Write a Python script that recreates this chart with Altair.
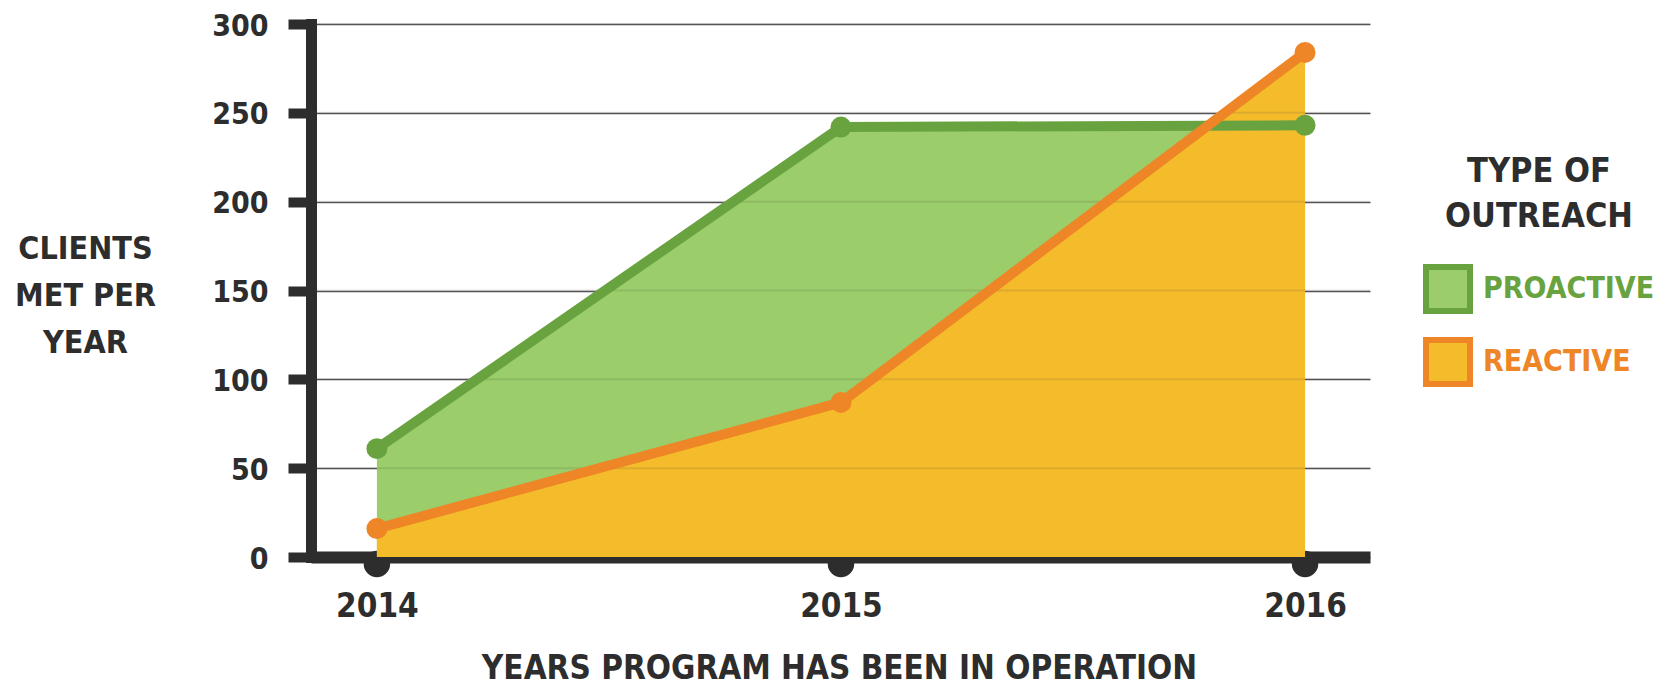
import altair as alt
import pandas as pd

# ---- data ----
years = [2014, 2015, 2016]
proactive = [61, 242, 243]
reactive = [16, 87, 284]
series_names = ["PROACTIVE", "REACTIVE"]
y_ticks = [0, 50, 100, 150, 200, 250, 300]

rows = []
for yr, p, r in zip(years, proactive, reactive):
    rows.append({"year": yr, "clients": p, "series": series_names[0]})
    rows.append({"year": yr, "clients": r, "series": series_names[1]})
df = pd.DataFrame(rows)
df_years = pd.DataFrame({"year": years})
df_grid = pd.DataFrame({"v": y_ticks[1:]})

FONT = "DejaVu Sans Condensed"
DARK = "#2d2d2d"
GREEN_LINE = "#69a340"
GREEN_FILL = "#9bcd6a"
ORANGE_LINE = "#ee8527"
YELLOW_FILL = "#f4bb2a"

xscale = alt.Scale(domain=[2013.858, 2016.14], nice=False, zero=False)
yscale = alt.Scale(domain=[0, 300], nice=False)

x_axis = alt.Axis(
    values=years, format="d", ticks=False, grid=False,
    labelFont=FONT, labelFontSize=33, labelFontWeight="bold", labelColor=DARK,
    labelPadding=33,
    domainColor=DARK, domainWidth=12, domainCap="butt",
    title="YEARS PROGRAM HAS BEEN IN OPERATION",
    titleFont=FONT, titleFontSize=33, titleFontWeight="bold", titleColor=DARK,
    titleX=528, titleY=111, titleAlign="center", titleBaseline="middle",
)
y_axis = alt.Axis(
    values=y_ticks,
    tickSize=23, tickWidth=10, tickColor=DARK, tickCap="butt",
    domainColor=DARK, domainWidth=11, domainCap="square",
    grid=True, gridColor="#555555", gridWidth=1.6,
    labelFont=FONT, labelFontSize=30, labelFontWeight="bold", labelColor=DARK,
    labelPadding=20, labelBaseline="middle", labelOffset=2,
    title=["CLIENTS", "MET PER", "YEAR"],
    titleFont=FONT, titleFontSize=32, titleFontWeight="bold", titleColor=DARK,
    titleAngle=0, titleX=-226, titleY=224, titleAlign="center",
    titleBaseline="middle", titleLineHeight=47,
)

color_scale = alt.Scale(domain=series_names, range=[GREEN_FILL, YELLOW_FILL])
stroke_scale = alt.Scale(domain=series_names, range=[GREEN_LINE, ORANGE_LINE])

legend = alt.Legend(
    title=["TYPE OF", "OUTREACH"], orient="none", legendX=1112, legendY=131,
    titleFont=FONT, titleFontSize=34, titleFontWeight="bold", titleColor=DARK,
    titleAlign="center", titleAnchor="middle", titleLineHeight=45, titlePadding=30,
    titleLimit=400,
    labelFont=FONT, labelFontSize=30, labelFontWeight="bold",
    labelColor=alt.ExprRef(f"datum.value == 'PROACTIVE' ? '{GREEN_LINE}' : '{ORANGE_LINE}'"),
    labelOffset=10, labelLimit=400,
    symbolType="square", symbolSize=1936, symbolStrokeWidth=6,
    symbolStrokeColor=alt.ExprRef(f"datum.value == 'PROACTIVE' ? '{GREEN_LINE}' : '{ORANGE_LINE}'"),
    symbolOpacity=1, rowPadding=5, padding=0,
)

base = alt.Chart(df)

bumps = alt.Chart(df_years).mark_circle(size=700, color=DARK, opacity=1, yOffset=7).encode(
    x=alt.X("year:Q", scale=xscale, axis=x_axis),
    y=alt.Y(datum=0, scale=yscale, axis=y_axis),
)

def area_for(name):
    return base.transform_filter(alt.datum.series == name).mark_area(opacity=1, interpolate="linear").encode(
        x=alt.X("year:Q", scale=xscale),
        y=alt.Y("clients:Q", scale=yscale, stack=None),
        fill=alt.Fill("series:N", scale=color_scale, legend=legend),
    )

grid_overlay = alt.Chart(df_grid).mark_rule(color="#3a3a3a", opacity=0.13, strokeWidth=2).encode(
    y=alt.Y("v:Q", scale=yscale),
)

def line_for(name):
    return base.transform_filter(alt.datum.series == name).mark_line(strokeWidth=10, strokeCap="round", strokeJoin="round").encode(
        x=alt.X("year:Q", scale=xscale),
        y=alt.Y("clients:Q", scale=yscale),
        stroke=alt.Stroke("series:N", scale=stroke_scale, legend=None),
    )

def points_for(name):
    return base.transform_filter(alt.datum.series == name).mark_circle(size=440, opacity=1).encode(
        x=alt.X("year:Q", scale=xscale),
        y=alt.Y("clients:Q", scale=yscale),
        color=alt.Color("series:N", scale=stroke_scale, legend=None),
    )

chart = alt.layer(
    bumps,
    area_for("PROACTIVE"),
    area_for("REACTIVE"),
    grid_overlay,
    line_for("PROACTIVE"), points_for("PROACTIVE"),
    line_for("REACTIVE"), points_for("REACTIVE"),
).resolve_scale(color="independent").properties(
    width=1059, height=533,
    autosize=alt.AutoSizeParams(type="none"),
    padding={"left": 303, "top": 16, "right": 291, "bottom": 129},
    background="white",
).configure_view(stroke=None)

chart.save("out.html", embed_options={"renderer": "svg", "actions": False})
